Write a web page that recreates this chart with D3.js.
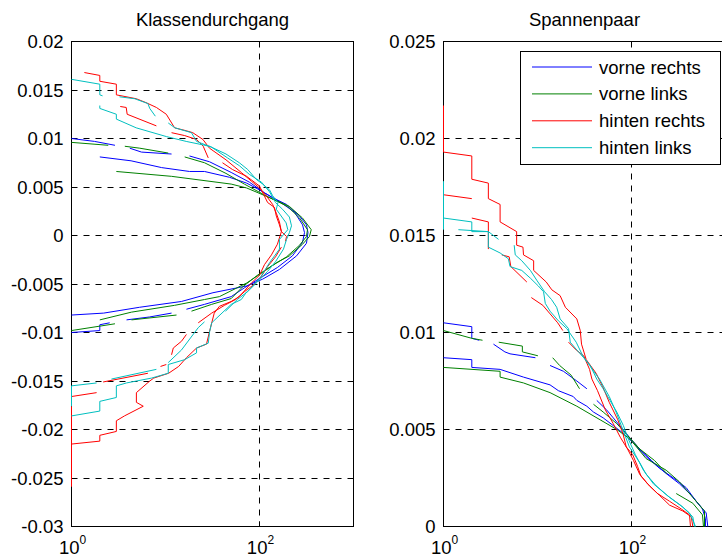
<!DOCTYPE html>
<html>
<head>
<meta charset="utf-8">
<script src="https://cdn.jsdelivr.net/npm/d3@7"></script>
<style>
  body { margin: 0; background: #fff; }
  svg { display: block; }
  text { font-family: "Liberation Sans", Arial, Helvetica, sans-serif; fill: #000; }
</style>
</head>
<body>
<div id="chart"></div>
<script>
// Series names and colours (legend order)
const seriesNames = ["vorne rechts", "vorne links", "hinten rechts", "hinten links"];
const seriesColors = ["#0000ff", "#008000", "#ff0000", "#00bfbf"];

// Tick values
const xTickValues = [1, 100];
const klasseYTicks = [-0.03, -0.025, -0.02, -0.015, -0.01, -0.005, 0, 0.005, 0.01, 0.015, 0.02];
const spannenYTicks = [0, 0.005, 0.01, 0.015, 0.02, 0.025];

// Klassendurchgang: each series is a list of line pieces, points are [count, value]
const klasseVorneRechts = [
  [[2,0.0081],[4.3,0.0077],[9.1,0.0070],[18,0.0066],[26,0.0066],[48,0.0060],[73,0.0054],[100,0.0047],[137,0.0039],[194,0.0032],[267,0.0020],[316,0.0011],[328,0.0003],[316,-0.0008],[248,-0.0021],[163,-0.0035],[108,-0.0045],[73,-0.0052],[32,-0.0059],[14.8,-0.0068],[5.3,-0.0074],[2.2,-0.0080],[1,-0.0082]],
  [[1,0.0100],[1.76,0.0097],[2.9,0.0093]],
  [[4.17,0.0090],[5.55,0.0086],[11.6,0.0084]],
  [[18,0.0082],[29.4,0.0076],[50,0.0065],[78,0.0055],[113,0.0044],[163,0.0035],[236,0.0024],[287,0.0011],[301,0.0003],[287,-0.0007],[224,-0.0021],[155,-0.0033],[105,-0.0043],[69,-0.0054],[50,-0.0063],[26,-0.0071],[16.7,-0.0076]],
  [[3.85,-0.0087],[6.76,-0.0084],[11.6,-0.0080]],
  [[1,-0.0100],[2,-0.0098],[2,-0.0092],[2.55,-0.0090]]
];

const klasseVorneLinks = [
  [[3,0.0066],[11.6,0.0061],[50,0.0053],[73,0.0049],[128,0.0039],[208,0.0030],[287,0.0018],[355,0.0006],[340,-0.0001],[287,-0.0009],[208,-0.0021],[152,-0.0028],[108,-0.0038],[73,-0.0049],[37.5,-0.0063],[26,-0.0066],[12.5,-0.0072],[4.35,-0.0079],[2,-0.0087]],
  [[1,0.0096],[2.46,0.0093]],
  [[3.69,0.0092],[5.33,0.0090],[10.7,0.0085]],
  [[16,0.0081],[26,0.0075],[44,0.0064],[69,0.0053],[122,0.0040],[199,0.0030],[267,0.0018],[324,0.0006],[316,-0.0001],[267,-0.0010],[194,-0.0022],[137,-0.0031],[95,-0.0041],[66,-0.0053],[50,-0.0065],[31,-0.0071],[18.9,-0.0078]],
  [[4.35,-0.0087],[13.1,-0.0082]],
  [[1,-0.0098],[2.9,-0.0091]]
];

const klasseHintenRechts = [
  [[1.37,0.0168],[2,0.0165],[2,0.0159],[3,0.0156],[3,0.0145],[4.88,0.0141],[6.2,0.0137],[8,0.0132],[10.2,0.0125],[12.5,0.0111],[16.6,0.0108],[19.5,0.0106],[25,0.0099],[29.4,0.0090],[44,0.0078],[64,0.0065],[82,0.0056],[100,0.0049],[118,0.0041],[138,0.0032],[151,0.0023],[163,0.0014],[171,0.0004],[155,-0.0009],[134,-0.0020],[113,-0.0030],[100,-0.0041],[82,-0.0049],[61,-0.0063],[50,-0.0068],[37.5,-0.0073],[33,-0.0080],[29.4,-0.0099],[27.3,-0.0112],[21.4,-0.0116],[16.7,-0.0126],[13.8,-0.0135],[10.8,-0.0142],[7.5,-0.0147],[6.8,-0.0150],[4.9,-0.0162],[4.9,-0.0172],[5.8,-0.0176],[3.66,-0.0186],[3,-0.0191],[3,-0.0202],[2,-0.0206],[2,-0.0212],[1,-0.0215],[1,-0.0259]],
  [[3.3,0.0133],[3.82,0.0132],[3.91,0.0125],[8,0.0113]],
  [[11.6,0.0106],[16,0.0103],[21.4,0.0099],[25.2,0.0092],[28.5,0.0080]],
  [[40.4,0.0075],[51.6,0.0068],[73,0.0061],[100,0.0051],[122,0.0034],[144,0.0029],[151,0.0020],[163,0.0011],[171,0.0004],[194,-0.0001],[189,-0.0006]],
  [[171,-0.0012],[148,-0.0022],[122,-0.0032],[105,-0.0042],[86,-0.0051],[69,-0.0058],[55.6,-0.0066],[42.4,-0.0072],[31,-0.0080],[22.3,-0.0090]],
  [[16.7,-0.0102],[14.8,-0.0109],[12.1,-0.0116],[11.6,-0.0123]],
  [[10.2,-0.0133],[8.85,-0.0135]],
  [[6.5,-0.0142],[2.17,-0.0151]],
  [[1.85,-0.0162],[1,-0.0166]],
  [[1,-0.0176],[1,-0.0215]]
];

const klasseHintenLinks = [
  [[1,0.0161],[2,0.0156],[2,0.0145],[2.14,0.0144]],
  [[3.24,0.0143],[4.7,0.0141],[6.5,0.0136],[6.8,0.0131],[7.8,0.0123]],
  [[10.7,0.0116],[12.6,0.0111],[18.9,0.0106],[21.4,0.0097],[31,0.0091],[45.7,0.0080],[61,0.0072],[78,0.0063],[105,0.0055],[128,0.0045],[148,0.0034],[176,0.0027],[208,0.0019],[219,0.0010],[208,0.0003],[194,-0.0004],[180,-0.0014],[148,-0.0027],[122,-0.0037],[95,-0.0048],[74.5,-0.0058],[58,-0.0066],[43.5,-0.0078]],
  [[26,-0.0089],[22.3,-0.0095],[14.8,-0.0118],[10.7,-0.0131]],
  [[8,-0.0138],[2.66,-0.0148]],
  [[1.85,-0.0152],[1,-0.0155],[1,-0.0176]],
  [[2,0.0134],[2,0.0131],[3,0.0125],[3,0.0120],[4.88,0.0111],[10.2,0.0102],[16.6,0.0097],[29.4,0.0092],[44,0.0084],[61,0.0075],[75,0.0068],[92,0.0058],[108,0.0053],[128,0.0047],[138,0.0041],[157,0.0034],[151,0.0027],[192,0.0013],[200,0.0006],[163,-0.0004],[163,-0.0014],[128,-0.0028],[104,-0.0042],[85,-0.0052],[72,-0.0059],[64,-0.0066],[50,-0.0071],[31,-0.0090],[29.5,-0.0099],[28.5,-0.0111],[21.4,-0.0116],[21.4,-0.0121],[16,-0.0128],[10.7,-0.0133],[10.7,-0.0142],[7.1,-0.0147],[3.85,-0.0152],[3,-0.0155],[3,-0.0167],[2,-0.0171],[2,-0.0181],[1,-0.0186]]
];

// Spannenpaar
const spannenVorneRechts = [
  [[1,0.0087],[2,0.0086],[2,0.0082],[4,0.0081],[7.1,0.0077],[13.6,0.0073],[16.7,0.0070],[24,0.0067],[26.2,0.0065],[33.5,0.0062],[39.4,0.0059],[50,0.0056],[64,0.0052],[82,0.0048],[105,0.0043],[143,0.0036],[199,0.0030],[299,0.0024],[382,0.0020],[488,0.0013],[623,0.0007],[648,0]],
  [[1,0.0105],[2,0.0103],[2,0.0097],[2.4,0.0096]],
  [[3.4,0.0094],[4.5,0.0090],[5.1,0.0089],[9.5,0.0087]],
  [[13.6,0.0083],[18.9,0.0080],[26.2,0.0075],[33.5,0.0071]],
  [[42.7,0.0065],[54.6,0.0060],[64,0.0056],[78,0.0051],[95,0.0046],[122,0.0040],[163,0.0034],[224,0.0028],[324,0.0022],[435,0.0016],[569,0.0009],[612,0.0004],[612,0]]
];

const spannenVorneLinks = [
  [[1,0.0082],[4,0.0080],[4,0.0077],[7.1,0.0074],[13.6,0.0069],[26.2,0.0062],[46.4,0.0055],[69.8,0.0050],[96.7,0.0045],[143,0.0035],[234,0.0029],[324,0.0023],[449,0.0015],[598,0.0008],[598,0]],
  [[1,0.0101],[2,0.0097],[2.6,0.0096]],
  [[3.87,0.0095],[6.9,0.0093],[6.9,0.0090],[10.1,0.0088]],
  [[14.5,0.0087],[17.2,0.0083],[22.8,0.0078],[28,0.0071]],
  [[39.4,0.0063],[50,0.0059],[69.8,0.0053],[90.6,0.0047],[122,0.0040],[176,0.0034],[240,0.0027]],
  [[299,0.0017],[449,0.0012],[569,0.0006],[583,0]]
];

const spannenHintenRechts = [
  [[1,0.0217],[1,0.0193],[2,0.0191],[2,0.0179],[3,0.0177],[3,0.0169],[4,0.0166],[4,0.0157],[6,0.0152],[6,0.0145],[7,0.0144],[7.1,0.0140],[9.1,0.0137],[9.1,0.0132],[12.4,0.0126],[14.2,0.0122],[17.4,0.0119],[19.8,0.0113],[26.2,0.0107],[28.5,0.0101],[29.4,0.0094],[33,0.0086],[42,0.0079],[49.5,0.0072],[58,0.0064],[71.5,0.0055],[81,0.0048],[88,0.0041],[103,0.0037],[116,0.0031],[126,0.0026],[155,0.0021],[199,0.0016],[254,0.0011],[351,0.0008],[432,0.0005],[449,0]],
  [[1,0.0171],[2,0.0169]],
  [[2,0.0159],[3,0.0157],[3,0.0143]],
  [[4.17,0.0140],[5,0.0139],[5.2,0.0134],[7.7,0.0126]],
  [[8.6,0.0118],[11.4,0.0114],[13.4,0.0110],[16.4,0.0105],[18.6,0.0101]],
  [[21.4,0.0095],[25.8,0.0091],[31,0.0088],[35.8,0.0081],[37.9,0.0076],[43.5,0.0070],[52.8,0.0060],[64,0.0053],[76,0.0046],[90.6,0.0040],[105,0.0034],[122,0.0027],[148,0.0022],[189,0.0017],[254,0.0013],[339,0.0009],[414,0.0006],[424,0]]
];

const spannenHintenLinks = [
  [[1,0.0178],[1,0.0153]],
  [[1,0.0159],[2,0.0157],[2,0.0152],[3,0.0152],[3.85,0.0148]],
  [[1.44,0.0153],[3,0.0152],[3,0.0144],[4,0.0141],[4.9,0.0138],[5.1,0.0134],[6.8,0.0132],[8.4,0.0128],[10.2,0.0124],[11.6,0.0121],[12.1,0.0115],[13.6,0.0111],[16.7,0.0106],[20.5,0.0102],[25.8,0.0095],[30.3,0.0088],[35.8,0.0083],[45.6,0.0076],[58,0.0067],[68.5,0.0059],[77.9,0.0052],[95,0.0041],[122,0.0033],[143,0.0027],[183,0.0021],[254,0.0015],[351,0.0010],[449,0.0005],[468,0]],
  [[5.65,0.0145],[5.8,0.0140],[6.8,0.0137],[8.4,0.0132],[9.8,0.0127],[11.9,0.0121],[14.1,0.0117],[16,0.0113],[17.4,0.0107],[21.4,0.0102],[22.3,0.0095],[26.2,0.0091],[31,0.0087],[36.4,0.0083],[42.7,0.0076],[50,0.0071],[59,0.0065],[69.8,0.0059],[82,0.0052],[92.7,0.0045],[110,0.0037],[134,0.0029],[171,0.0022],[240,0.0016],[332,0.0011],[414,0.0007],[480,0]]
];

//Setting the dimensions of the figure and the two axes
const width = 722, height = 558;
const plotW = 282, plotH = 485, plotTop = 41.5;
const fontSize = 18.5;

const svg = d3.select("#chart")
    .append("svg")
    .attr("width", width)
    .attr("height", height);

const panels = [
  { title: "Klassendurchgang", left: 71.5, yDomain: [-0.03, 0.02], yTicks: klasseYTicks,
    series: [klasseVorneRechts, klasseVorneLinks, klasseHintenRechts, klasseHintenLinks] },
  { title: "Spannenpaar", left: 443.5, yDomain: [0, 0.025], yTicks: spannenYTicks,
    series: [spannenVorneRechts, spannenVorneLinks, spannenHintenRechts, spannenHintenLinks] }
];

const fmt = d => d === 0 ? "0" : String(+d.toFixed(3));

panels.forEach((p, i) => {
  const g = svg.append("g").attr("transform", `translate(${p.left},${plotTop})`);

  const x = d3.scaleLog().domain([1, 1000]).range([0, plotW]);
  const y = d3.scaleLinear().domain(p.yDomain).range([plotH, 0]);

  //Clip for the data lines
  const clipId = "clip" + i;
  g.append("clipPath").attr("id", clipId)
    .append("rect").attr("x", -1).attr("y", -1).attr("width", plotW + 2).attr("height", plotH + 2);

  //Dashed grid
  const inner = p.yTicks.filter(t => t !== p.yDomain[0] && t !== p.yDomain[1]);
  g.append("g").selectAll("line")
    .data(inner)
    .join("line")
    .attr("x1", 0).attr("x2", plotW)
    .attr("y1", d => Math.round(y(d))).attr("y2", d => Math.round(y(d)))
    .attr("stroke", "#000").attr("stroke-width", 1).attr("stroke-dasharray", "6,6");
  g.append("g").selectAll("line")
    .data(xTickValues.filter(t => t > 1))
    .join("line")
    .attr("x1", d => Math.round(x(d))).attr("x2", d => Math.round(x(d)))
    .attr("y1", 0).attr("y2", plotH)
    .attr("stroke", "#000").attr("stroke-width", 1).attr("stroke-dasharray", "6,6");

  //Box
  g.append("rect")
    .attr("x", 0).attr("y", 0).attr("width", plotW).attr("height", plotH)
    .attr("fill", "none").attr("stroke", "#000").attr("stroke-width", 1);

  //Inner ticks on all sides
  const tickLen = 5;
  p.yTicks.forEach(t => {
    const yy = Math.round(y(t));
    g.append("line").attr("x1", 0).attr("x2", tickLen).attr("y1", yy).attr("y2", yy).attr("stroke", "#000");
    g.append("line").attr("x1", plotW - tickLen).attr("x2", plotW).attr("y1", yy).attr("y2", yy).attr("stroke", "#000");
  });
  xTickValues.forEach(t => {
    const xx = Math.round(x(t));
    g.append("line").attr("x1", xx).attr("x2", xx).attr("y1", plotH - tickLen).attr("y2", plotH).attr("stroke", "#000");
    g.append("line").attr("x1", xx).attr("x2", xx).attr("y1", 0).attr("y2", tickLen).attr("stroke", "#000");
  });

  //Data lines
  const line = d3.line().x(d => x(d[0])).y(d => y(d[1]));
  const data = g.append("g").attr("clip-path", `url(#${clipId})`);
  p.series.forEach((pieces, s) => {
    data.selectAll(null)
      .data(pieces)
      .join("path")
      .attr("fill", "none")
      .attr("stroke", seriesColors[s])
      .attr("stroke-width", 1)
      .attr("d", line);
  });

  //Y tick labels
  g.append("g").selectAll("text")
    .data(p.yTicks)
    .join("text")
    .attr("x", -8)
    .attr("y", d => y(d) + 6.5)
    .attr("text-anchor", "end")
    .style("font-size", fontSize + "px")
    .text(fmt);

  //X tick labels as 10^n
  const xl = g.append("g").selectAll("text")
    .data(xTickValues)
    .join("text")
    .attr("x", d => x(d) + 1)
    .attr("y", plotH + 27)
    .attr("text-anchor", "middle")
    .style("font-size", fontSize + "px");
  xl.append("tspan").text("10");
  xl.append("tspan")
    .attr("dy", -10)
    .style("font-size", "12px")
    .text(d => Math.round(Math.log10(d)));

  //Title
  svg.append("text")
    .attr("x", p.left + plotW / 2)
    .attr("y", 26)
    .attr("text-anchor", "middle")
    .style("font-size", fontSize + "px")
    .text(p.title);
});

//Legend in the right axes
const legend = svg.append("g").attr("transform", "translate(520.5,51.5)");
legend.append("rect")
  .attr("width", 200).attr("height", 113)
  .attr("fill", "#fff").attr("stroke", "#000").attr("stroke-width", 1);
seriesNames.forEach((name, i) => {
  const ly = 15.5 + i * 26.9;
  legend.append("line")
    .attr("x1", 11.5).attr("x2", 71.5)
    .attr("y1", ly).attr("y2", ly)
    .attr("stroke", seriesColors[i]).attr("stroke-width", 1);
  legend.append("text")
    .attr("x", 78.5)
    .attr("y", ly + 6.5)
    .style("font-size", fontSize + "px")
    .text(name);
});
</script>
</body>
</html>
